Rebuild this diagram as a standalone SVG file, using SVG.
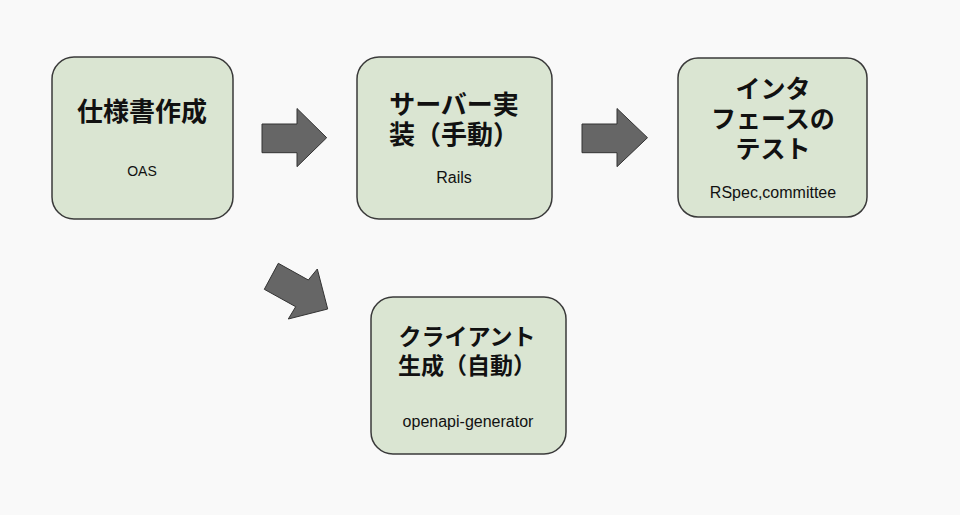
<svg xmlns="http://www.w3.org/2000/svg" width="960" height="515" viewBox="0 0 960 515">
<style>
.box{fill:#dae5d2;stroke:#3a3a3a;stroke-width:1.5}
.ttl{font-family:"Liberation Sans","Noto Sans CJK JP",sans-serif;font-weight:bold;fill:#111;text-anchor:middle}
.sub{font-family:"Liberation Sans",Arial,sans-serif;fill:#111;text-anchor:middle}
.arr{fill:#666;stroke:#333;stroke-width:1;stroke-linejoin:miter}
</style>
<rect width="960" height="515" fill="#f9f9f9"/>
<g id="connectors">
<polygon class="arr" points="262,124 297,124 297,108.5 326.7,137.7 297,166.7 297,152.7 262,152.7"/>
<polygon class="arr" points="582,124 617,124 617,108.5 647.5,137.7 617,166.7 617,152.7 582,152.7"/>
<polygon class="arr" points="278.3,263.3 308.3,280 317.3,269 327.7,309 288.3,319 295.7,306.7 264.3,289.3"/>
</g>
<g id="node-spec">
<rect class="box" x="52" y="57" width="181" height="162" rx="22"/>
<text class="ttl" x="142" y="121" font-size="26">仕様書作成</text>
<text class="sub" x="142" y="176" font-size="14">OAS</text>
</g>
<g id="node-server">
<rect class="box" x="357" y="57" width="195" height="162" rx="22"/>
<text class="ttl" x="454" y="114" font-size="26">サーバー実</text>
<text class="ttl" x="454" y="144" font-size="26">装（手動）</text>
<text class="sub" x="454" y="183" font-size="16">Rails</text>
</g>
<g id="node-test">
<rect class="box" x="678" y="58" width="189" height="159" rx="20"/>
<text class="ttl" x="773" y="98" font-size="25">インタ</text>
<text class="ttl" x="773" y="128" font-size="25">フェースの</text>
<text class="ttl" x="773" y="158" font-size="25">テスト</text>
<text class="sub" x="773" y="198" font-size="16">RSpec,committee</text>
</g>
<g id="node-client">
<rect class="box" x="371" y="297" width="195" height="157" rx="22"/>
<text class="ttl" x="467" y="345" font-size="23">クライアント</text>
<text class="ttl" x="467" y="374" font-size="23">生成（自動）</text>
<text class="sub" x="468" y="427" font-size="16">openapi-generator</text>
</g>
</svg>
